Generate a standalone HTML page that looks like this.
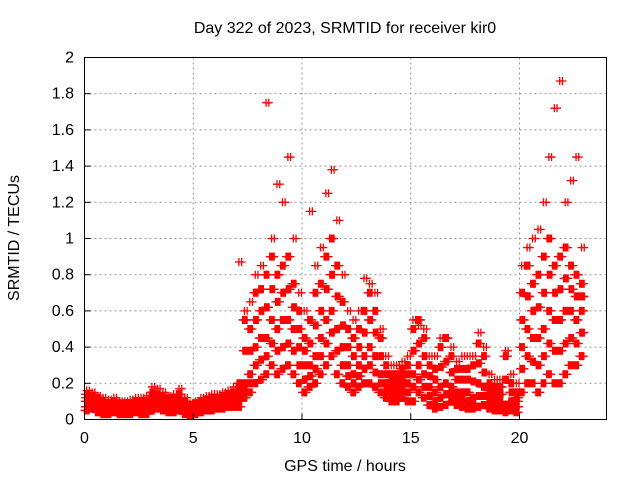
<!DOCTYPE html>
<html><head><meta charset="utf-8"><style>
body{margin:0;background:#fff}
svg text{font-family:"Liberation Sans",sans-serif;font-size:16px;fill:#000}
</style></head><body>
<svg id="chart" width="640" height="480" viewBox="0 0 640 480">
<rect width="640" height="480" fill="#fff"/>
<text x="345" y="33" text-anchor="middle">Day 322 of 2023, SRMTID for receiver kir0</text>
<text x="345" y="471" text-anchor="middle">GPS time / hours</text>
<text transform="translate(19,238) rotate(-90)" text-anchor="middle">SRMTID / TECUs</text>
<g id="grid"></g>
<g id="marks"></g>
<rect x="84.5" y="57.5" width="522" height="362" fill="none" stroke="#000" stroke-width="1"/>
<g id="ticks"></g>
</svg>
<script>
const xTicks=[0,5,10,15,20];
const yTicks=[0,0.2,0.4,0.6,0.8,1,1.2,1.4,1.6,1.8,2];
const yTickLabels=["0","0.2","0.4","0.6","0.8","1","1.2","1.4","1.6","1.8","2"];
const stepHours=0.25;
const lo=[0.05,0.06,0.04,0.03,0.03,0.04,0.03,0.03,0.03,0.04,0.03,0.03,0.05,0.06,0.05,0.04,0.04,0.05,0.03,0.02,0.03,0.04,0.05,0.05,0.06,0.06,0.07,0.07,
0.07,0.12,0.15,0.2,0.22,0.25,0.3,0.25,0.28,0.3,0.25,0.2,0.15,0.18,0.2,0.25,
0.3,0.35,0.25,0.2,0.18,0.15,0.18,0.2,0.2,0.18,0.15,0.12,0.1,0.1,0.12,0.1,
0.1,0.15,0.12,0.08,0.06,0.07,0.08,0.1,0.08,0.07,0.06,0.06,0.07,0.08,0.06,0.05,
0.05,0.04,0.05,0.04,0.15,0.2,0.2,0.15,0.2,0.25,0.2,0.2,0.25,0.3,0.3,0.35];
const q1=[0.07,0.08,0.06,0.05,0.05,0.05,0.05,0.04,0.05,0.05,0.05,0.05,0.08,0.08,0.07,0.06,0.06,0.07,0.05,0.04,0.04,0.05,0.06,0.07,0.07,0.08,0.08,0.09,
0.1,0.16,0.2,0.3,0.33,0.35,0.42,0.38,0.4,0.42,0.38,0.3,0.22,0.24,0.28,0.35,
0.42,0.48,0.38,0.3,0.24,0.2,0.24,0.28,0.3,0.26,0.2,0.16,0.14,0.14,0.16,0.15,
0.18,0.22,0.18,0.13,0.1,0.12,0.14,0.14,0.12,0.11,0.1,0.09,0.13,0.13,0.09,0.08,
0.07,0.06,0.07,0.07,0.28,0.35,0.32,0.3,0.35,0.42,0.38,0.38,0.42,0.45,0.42,0.48];
const mid=[0.1,0.1,0.08,0.07,0.06,0.07,0.06,0.06,0.06,0.07,0.06,0.07,0.1,0.1,0.09,0.08,0.08,0.09,0.07,0.05,0.06,0.07,0.08,0.09,0.09,0.1,0.1,0.11,
0.12,0.2,0.25,0.4,0.45,0.45,0.55,0.5,0.55,0.55,0.5,0.4,0.3,0.3,0.35,0.45,
0.55,0.6,0.5,0.4,0.3,0.25,0.3,0.35,0.4,0.35,0.25,0.2,0.18,0.18,0.2,0.2,
0.25,0.3,0.25,0.18,0.15,0.18,0.2,0.18,0.15,0.15,0.15,0.12,0.2,0.18,0.12,0.1,
0.1,0.08,0.1,0.1,0.4,0.5,0.45,0.45,0.5,0.6,0.55,0.55,0.6,0.6,0.55,0.6];
const q3=[0.12,0.12,0.1,0.09,0.08,0.09,0.08,0.08,0.08,0.09,0.08,0.09,0.13,0.12,0.11,0.1,0.1,0.12,0.09,0.07,0.08,0.09,0.1,0.11,0.11,0.12,0.12,0.13,
0.16,0.38,0.38,0.55,0.6,0.62,0.72,0.65,0.7,0.72,0.62,0.5,0.38,0.42,0.52,0.6,
0.72,0.8,0.68,0.52,0.4,0.35,0.4,0.48,0.55,0.48,0.35,0.25,0.22,0.22,0.24,0.25,
0.38,0.42,0.35,0.24,0.22,0.29,0.32,0.26,0.22,0.22,0.22,0.21,0.31,0.26,0.16,0.14,
0.14,0.22,0.15,0.12,0.55,0.68,0.6,0.62,0.7,0.8,0.7,0.72,0.78,0.72,0.68,0.68];
const hi=[0.14,0.13,0.12,0.1,0.09,0.1,0.09,0.09,0.09,0.1,0.1,0.1,0.15,0.14,0.13,0.12,0.12,0.14,0.1,0.08,0.09,0.1,0.11,0.12,0.12,0.13,0.14,0.15,
0.2,0.55,0.5,0.7,0.72,0.8,0.9,0.8,0.85,0.9,0.75,0.6,0.45,0.55,0.7,0.75,
0.9,1.0,0.85,0.65,0.5,0.45,0.5,0.6,0.7,0.6,0.45,0.3,0.25,0.25,0.28,0.3,
0.5,0.55,0.45,0.3,0.28,0.4,0.45,0.35,0.28,0.28,0.28,0.3,0.42,0.35,0.2,0.18,
0.18,0.35,0.2,0.15,0.7,0.85,0.75,0.8,0.9,1.0,0.85,0.9,0.95,0.85,0.8,0.75];
const pk=[0.16,0.15,0.13,0.12,0.11,0.12,0.1,0.1,0.11,0.12,0.12,0.13,0.18,0.17,0.15,0.13,0.14,0.17,0.12,0.09,0.1,0.12,0.13,0.14,0.14,0.15,0.16,0.18,
0.87,0.6,0.65,0.8,0.85,1.75,1.0,1.3,1.2,1.45,1.0,0.7,0.6,1.15,0.85,0.95,
1.25,1.38,1.1,0.8,0.6,0.55,0.6,0.78,0.75,0.7,0.5,0.35,0.3,0.3,0.32,0.35,
0.55,0.52,0.5,0.35,0.35,0.45,0.45,0.4,0.32,0.35,0.35,0.35,0.48,0.4,0.25,0.22,
0.22,0.38,0.25,0.2,0.85,0.95,1.0,1.05,1.2,1.45,1.72,1.87,1.2,1.32,1.45,0.95];

const X0=84.5,X1=606.5,Y0=419.5,Y1=57.5;
function xs(h){return X0+(X1-X0)*h/24;}
function ys(v){return Y0-(Y0-Y1)*v/2;}
const NS="http://www.w3.org/2000/svg";
const grid=document.getElementById('grid'),ticks=document.getElementById('ticks'),marks=document.getElementById('marks');
function mk(tag,attrs,parent){const e=document.createElementNS(NS,tag);for(const k in attrs)e.setAttribute(k,attrs[k]);parent.appendChild(e);return e;}
xTicks.forEach(t=>{
  const x=xs(t);
  if(t>0){const g=mk('line',{x1:x,x2:x,y1:Y0,y2:Y1,stroke:'#999','stroke-dasharray':'2,3'},grid);
  
  }
  const tk=mk('line',{x1:x,x2:x,y1:Y0,y2:Y0-6,stroke:'#000'},ticks);
  
  
  const lb=mk('text',{x:x,y:443,'text-anchor':'middle'},ticks);lb.textContent=t;
  
  
});
yTicks.forEach((v,i)=>{
  const y=ys(v);
  if(v>0&&v<2){const g=mk('line',{x1:X0,x2:X1,y1:y,y2:y,stroke:'#999','stroke-dasharray':'2,3'},grid);
  
  }
  const tk=mk('line',{x1:X0,x2:X0+6,y1:y,y2:y,stroke:'#000'},ticks);
  
  
  const lb=mk('text',{x:74,y:y+5,'text-anchor':'end'},ticks);lb.textContent=yTickLabels[i];
  
  
});
function plus(h,v){
  const x=xs(h),y=ys(v);
  const p=mk('path',{d:`M${x-4},${y}H${x+4}M${x},${y-4}V${y+4}`,stroke:'#f00','stroke-width':1.3,fill:'none'},marks);
  
  
}
const series=[[lo,0.0,6],[q1,0.02,6],[mid,0.01,6],[q3,0.03,6],[hi,0.015,6],[pk,0.1,2]];
series.forEach(([arr,base,n])=>{
  arr.forEach((v,i)=>{for(let k=0;k<n;k++)plus(i*stepHours+base+k*(stepHours/n),v);});
});
</script>
</body></html>
